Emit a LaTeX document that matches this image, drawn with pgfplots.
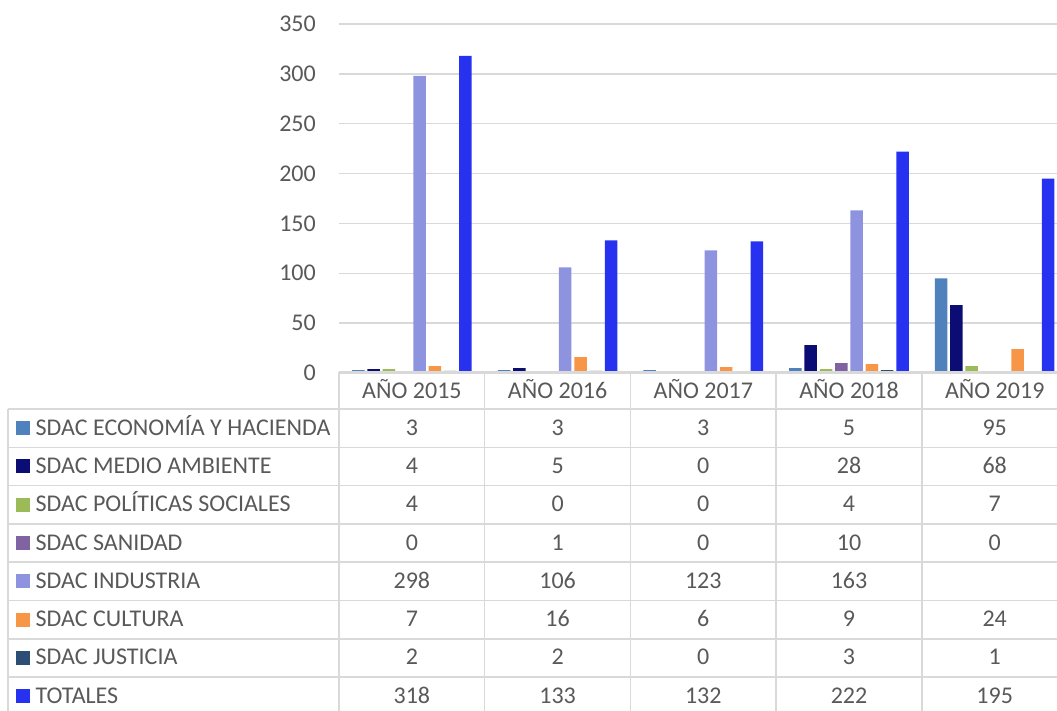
\documentclass[border=0pt]{standalone}
\usepackage{pgfplots}
\pgfplotsset{compat=1.18}
\usepackage{pgfplotstable}
\usepackage{fontspec}
\setmainfont{Carlito}
\definecolor{cEcon}{HTML}{4F81BD}
\definecolor{cMedio}{HTML}{0C0C75}
\definecolor{cPol}{HTML}{9BBB59}
\definecolor{cSan}{HTML}{8064A2}
\definecolor{cInd}{HTML}{8E93E0}
\definecolor{cCult}{HTML}{F79646}
\definecolor{cJust}{HTML}{2C4D75}
\definecolor{cTot}{HTML}{2632F0}
\definecolor{txt}{HTML}{595959}
\definecolor{gridc}{HTML}{D9D9D9}

\pgfplotstableread{
x econ medio pol san ind cult just tot
0 3 4 4 0 298 7 2 318
1 3 5 0 1 106 16 2 133
2 3 0 0 0 123 6 0 132
3 5 28 4 10 163 9 3 222
4 95 68 7 0 nan 24 1 195
}\datatable

\begin{document}
\begin{tikzpicture}[font=\fontsize{24}{28}\selectfont]
\path[use as bounding box] (0pt,0pt) rectangle (1057pt,711pt);
\begin{axis}[at={(339pt,338pt)}, anchor=south west, scale only axis,
  width=718pt, height=349pt,
  xmin=-0.5, xmax=4.428, ymin=0, ymax=350,
  ytick={0,50,...,350}, xtick=\empty,
  ymajorgrids, grid style={draw=gridc, line width=1.5pt},
  axis line style={draw=none}, major tick length=0pt,
  yticklabel style={font=\fontsize{24}{28}\selectfont, text=txt, anchor=east, inner sep=0pt, xshift=-23pt},
  /pgf/number format/assume math mode=true,
  ybar=2.8pt, bar width=12.5pt]
\addplot[fill=cEcon, draw=none] table[x=x,y=econ]{\datatable};
\addplot[fill=cMedio, draw=none] table[x=x,y=medio]{\datatable};
\addplot[fill=cPol, draw=none] table[x=x,y=pol]{\datatable};
\addplot[fill=cSan, draw=none] table[x=x,y=san]{\datatable};
\addplot[fill=cInd, draw=none] table[x=x,y=ind]{\datatable};
\addplot[fill=cCult, draw=none] table[x=x,y=cult]{\datatable};
\addplot[fill=cJust, draw=none] table[x=x,y=just]{\datatable};
\addplot[fill=cTot, draw=none] table[x=x,y=tot]{\datatable};
\end{axis}
\begin{scope}[x=1pt,y=1pt]
  % table grid
  \draw[gridc, line width=1.5pt] (339,339) -- (1057,339);
  \foreach \k in {0,...,7} {
    \draw[gridc, line width=1.5pt] (8,{302-38.3*\k}) -- (1057,{302-38.3*\k});
  }
  \draw[gridc, line width=1.5pt] (8,302) -- (8,0);
  \foreach \k in {0,...,4} {
    \draw[gridc, line width=1.5pt] ({339+145.7*\k},339) -- ({339+145.7*\k},0);
  }
  % header
  \foreach [count=\k from 0] \h in {AÑO 2015,AÑO 2016,AÑO 2017,AÑO 2018,AÑO 2019} {
    \node[anchor=base, inner sep=0pt, text=txt] at ({411.9+145.7*\k},312) {\h};
  }
  % rows
  \foreach [count=\r from 0] \lab/\col/\a/\b/\c/\d/\e in {
    SDAC ECONOMÍA Y HACIENDA/cEcon/3/3/3/5/95,
    SDAC MEDIO AMBIENTE/cMedio/4/5/0/28/68,
    SDAC POLÍTICAS SOCIALES/cPol/4/0/0/4/7,
    SDAC SANIDAD/cSan/0/1/0/10/0,
    SDAC INDUSTRIA/cInd/298/106/123/163/{},
    SDAC CULTURA/cCult/7/16/6/9/24,
    SDAC JUSTICIA/cJust/2/2/0/3/1,
    TOTALES/cTot/318/133/132/222/195} {
    \pgfmathsetmacro\yc{282.85-38.3*\r}
    \pgfmathsetmacro\yb{\yc-7}
    \fill[\col] (16,\yc-7) rectangle (30,\yc+7);
    \node[anchor=base west, inner sep=0pt, text=txt] at (35.5,\yb) {\lab};
    \foreach [count=\k from 0] \v in {\a,\b,\c,\d,\e} {
      \node[anchor=base, inner sep=0pt, text=txt] at ({411.9+145.7*\k},\yb) {\v};
    }
  }
\end{scope}
\end{tikzpicture}
\end{document}
